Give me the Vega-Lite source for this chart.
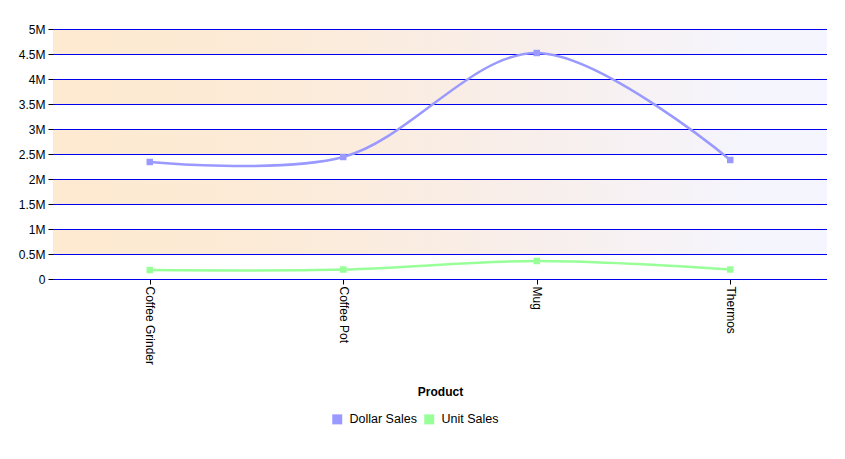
{
  "$schema": "https://vega.github.io/schema/vega-lite/v6.json",
  "width": 774,
  "height": 250,
  "autosize": {"type": "none"},
  "padding": {"left": 53, "top": 29, "right": 18, "bottom": 180},
  "background": "white",
  "config": {
    "font": "Liberation Sans",
    "view": {"stroke": null},
    "axis": {"labelFont": "Liberation Sans", "titleFont": "Liberation Sans", "labelColor": "#000000", "titleColor": "#000000"},
    "axisY": {"title": null, "labelFontSize": 12, "labelPadding": 3, "domain": false, "tickColor": "#000000", "tickSize": 5, "grid": false, "labelOverlap": false}
  },
  "datasets": {
    "sales": [
      {"Product": "Coffee Grinder", "Measure": "Dollar Sales", "Value": 2340000},
      {"Product": "Coffee Pot", "Measure": "Dollar Sales", "Value": 2440000},
      {"Product": "Mug", "Measure": "Dollar Sales", "Value": 4520000},
      {"Product": "Thermos", "Measure": "Dollar Sales", "Value": 2380000},
      {"Product": "Coffee Grinder", "Measure": "Unit Sales", "Value": 180000},
      {"Product": "Coffee Pot", "Measure": "Unit Sales", "Value": 190000},
      {"Product": "Mug", "Measure": "Unit Sales", "Value": 360000},
      {"Product": "Thermos", "Measure": "Unit Sales", "Value": 190000}
    ],
    "bands": [
      {"lo": 500000, "hi": 1000000},
      {"lo": 1500000, "hi": 2000000},
      {"lo": 2500000, "hi": 3000000},
      {"lo": 3500000, "hi": 4000000},
      {"lo": 4500000, "hi": 5000000}
    ],
    "grid": [
      {"v": 0}, {"v": 500000}, {"v": 1000000}, {"v": 1500000}, {"v": 2000000}, {"v": 2500000},
      {"v": 3000000}, {"v": 3500000}, {"v": 4000000}, {"v": 4500000}, {"v": 5000000}
    ]
  },
  "layer": [
    {
      "data": {"name": "bands"},
      "mark": {
        "type": "rect",
        "fill": {
          "gradient": "linear",
          "x1": 0, "y1": 0, "x2": 1, "y2": 0,
          "stops": [
            {"offset": 0, "color": "#FEEAD0"},
            {"offset": 0.3, "color": "#FCEBD8"},
            {"offset": 0.6, "color": "#F8EEEA"},
            {"offset": 0.9, "color": "#F5F5FD"},
            {"offset": 1, "color": "#F5F5FF"}
          ]
        }
      },
      "encoding": {
        "y": {"field": "lo", "type": "quantitative", "scale": {"domain": [0, 5000000], "nice": false},
          "axis": {"values": [0, 500000, 1000000, 1500000, 2000000, 2500000, 3000000, 3500000, 4000000, 4500000, 5000000],
            "labelExpr": "datum.value == 0 ? '0' : (datum.value / 1000000) + 'M'"}},
        "y2": {"field": "hi"}
      }
    },
    {
      "data": {"name": "grid"},
      "mark": {"type": "rule", "color": "#0000EE", "strokeWidth": 1, "yOffset": 0.5},
      "encoding": {
        "y": {"field": "v", "type": "quantitative",
          "axis": {"values": [0, 500000, 1000000, 1500000, 2000000, 2500000, 3000000, 3500000, 4000000, 4500000, 5000000],
            "labelExpr": "datum.value == 0 ? '0' : (datum.value / 1000000) + 'M'"}}
      }
    },
    {
      "data": {"name": "sales"},
      "layer": [
        {
          "mark": {"type": "line", "interpolate": "catmull-rom", "strokeWidth": 2.5},
          "encoding": {
            "x": {"field": "Product", "type": "nominal", "sort": null, "scale": {"type": "point", "padding": 0.5},
              "axis": {"title": "Product", "labelAngle": 90, "labelAlign": "left", "labelBaseline": "middle", "labelFontSize": 12, "labelPadding": 2,
                "tickColor": "#000000", "tickSize": 5, "domain": false, "grid": false, "titleFontSize": 12, "titleFontWeight": "bold", "titleY": 112, "titleBaseline": "middle"}},
            "y": {"field": "Value", "type": "quantitative",
              "axis": {"values": [0, 500000, 1000000, 1500000, 2000000, 2500000, 3000000, 3500000, 4000000, 4500000, 5000000],
                "labelExpr": "datum.value == 0 ? '0' : (datum.value / 1000000) + 'M'"}},
            "color": {"field": "Measure", "type": "nominal",
              "scale": {"domain": ["Dollar Sales", "Unit Sales"], "range": ["#9999FF", "#99FF99"]},
              "legend": {"title": null, "orient": "none", "legendX": 278, "legendY": 384, "direction": "horizontal",
                "symbolType": "square", "symbolSize": 100, "symbolStrokeWidth": 0, "symbolOpacity": 1,
                "labelFontSize": 12.5, "labelFont": "Liberation Sans", "labelColor": "#000000", "labelOffset": 6, "columnPadding": 6, "padding": 0}}
          }
        },
        {
          "mark": {"type": "point", "shape": "square", "filled": true, "size": 42, "opacity": 1},
          "encoding": {
            "x": {"field": "Product", "type": "nominal", "sort": null},
            "y": {"field": "Value", "type": "quantitative",
              "axis": {"values": [0, 500000, 1000000, 1500000, 2000000, 2500000, 3000000, 3500000, 4000000, 4500000, 5000000],
                "labelExpr": "datum.value == 0 ? '0' : (datum.value / 1000000) + 'M'"}},
            "color": {"field": "Measure", "type": "nominal",
              "legend": {"title": null, "orient": "none", "legendX": 278, "legendY": 384, "direction": "horizontal",
                "symbolType": "square", "symbolSize": 100, "symbolStrokeWidth": 0, "symbolOpacity": 1,
                "labelFontSize": 12.5, "labelFont": "Liberation Sans", "labelColor": "#000000", "labelOffset": 6, "columnPadding": 6, "padding": 0}}
          }
        }
      ]
    }
  ]
}
